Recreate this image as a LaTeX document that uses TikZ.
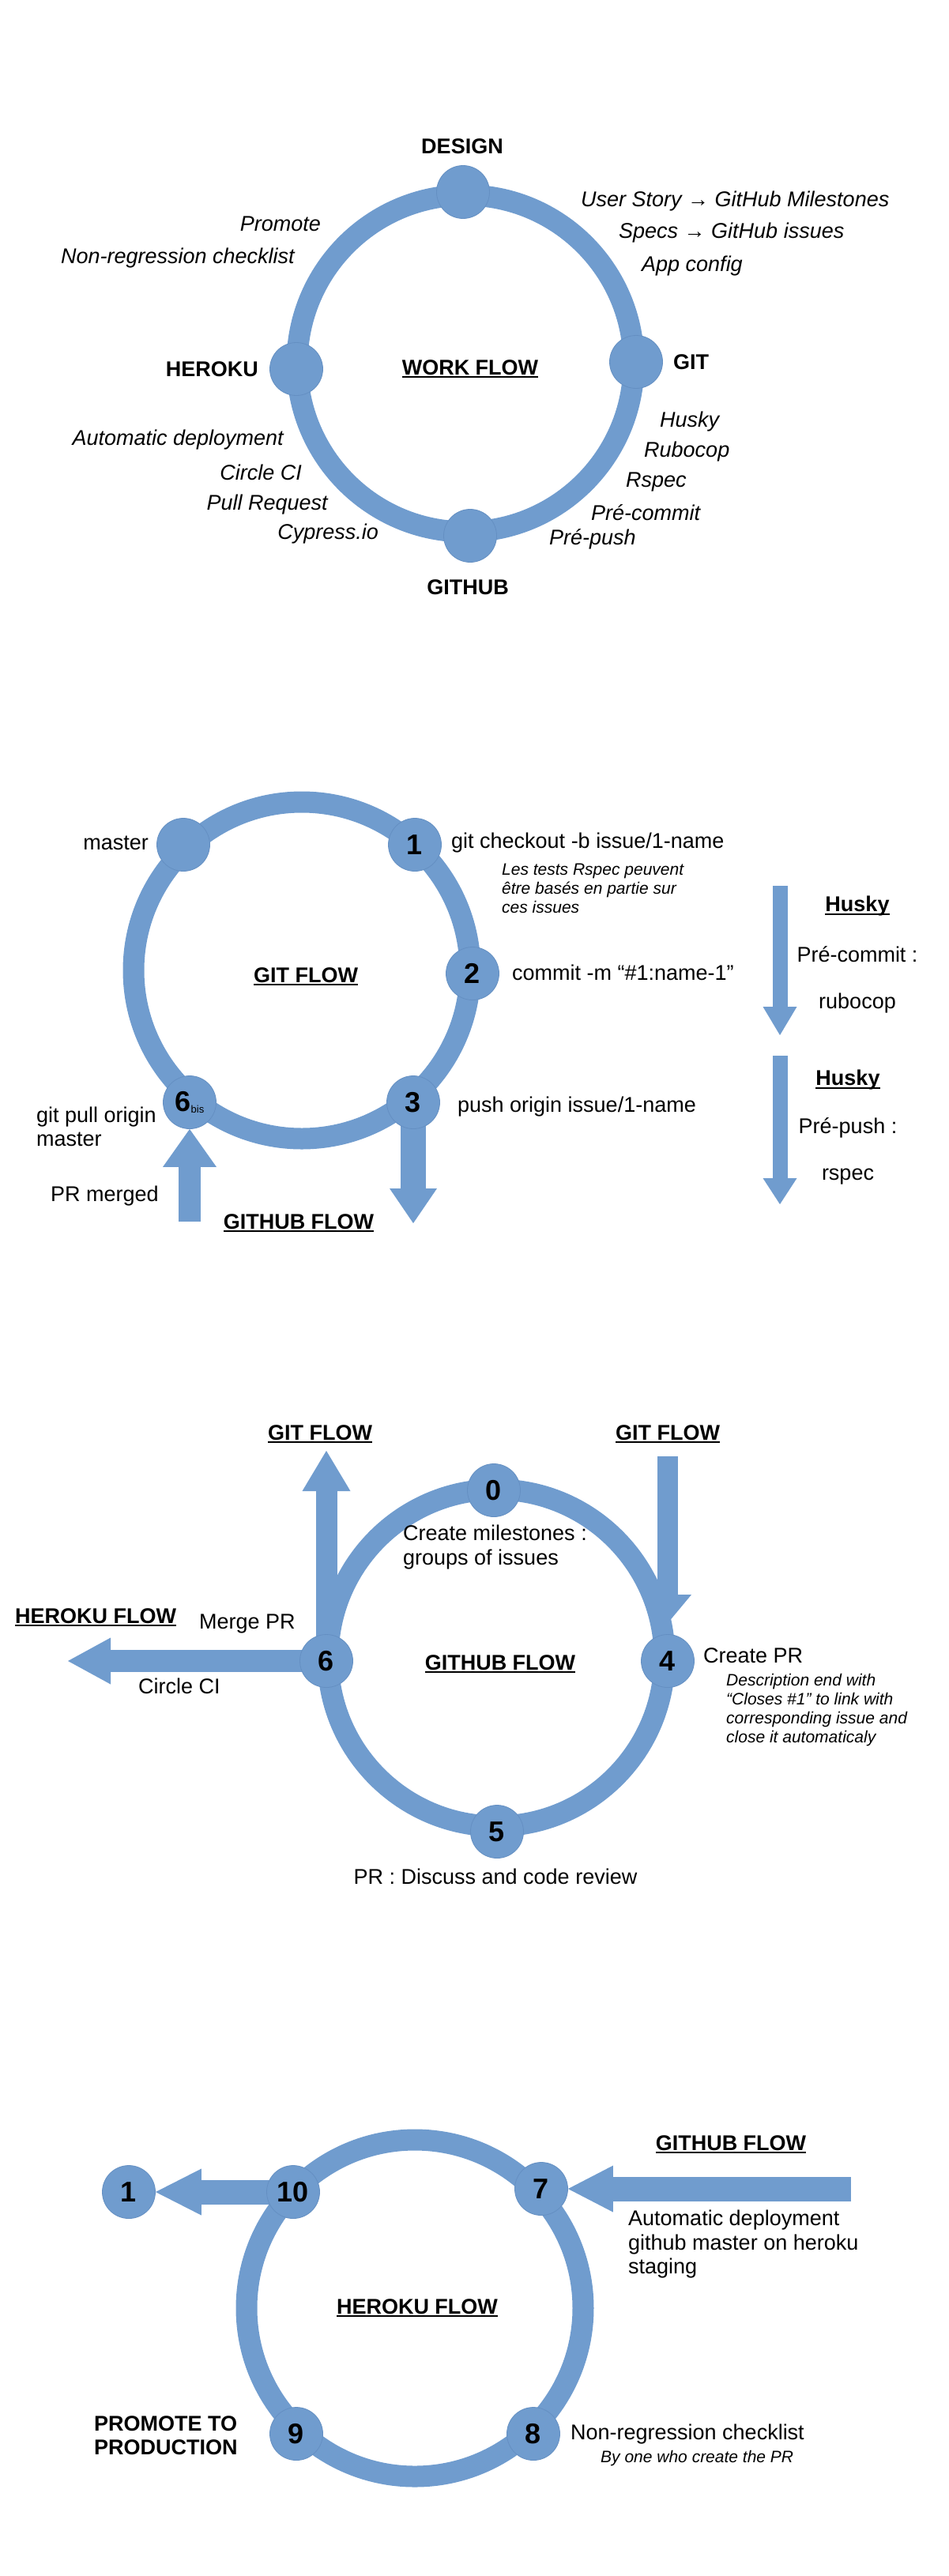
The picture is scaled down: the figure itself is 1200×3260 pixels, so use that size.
\documentclass[tikz,border=0pt]{standalone}
\usepackage{fontspec}
\setmainfont{Liberation Sans}
\usetikzlibrary{arrows.meta, backgrounds}

\definecolor{flowblue}{RGB}{112,156,206}
\definecolor{flowedge}{RGB}{100,143,194}
\newcommand{\lblfont}{\fontsize{27}{30.5}\selectfont}
\newcommand{\notefont}{\fontsize{21}{24}\selectfont\itshape}
\newcommand{\dotfont}{\fontsize{36}{36}\selectfont\bfseries}
% underline of the flow titles
\newcommand{\flowul}[1]{\setbox0\hbox{#1}\rlap{\rule[-4pt]{\wd0}{2pt}}\box0}

\begin{document}
\begin{tikzpicture}[x=1pt, y=-1pt,
  flowring/.style={draw=flowblue, line width=27pt},
  flowdot/.style={circle, fill=flowblue, draw=flowedge, line width=0.8pt, minimum size=67pt, inner sep=0pt, font=\dotfont},
  lbl/.style={inner sep=0pt, font=\lblfont, align=left},
  itl/.style={inner sep=0pt, font=\lblfont\itshape},
  ttl/.style={inner sep=0pt, font=\lblfont\bfseries, align=left},
  remark/.style={inner sep=0pt, font=\notefont, align=left},
  fatarrow/.style n args={3}{draw=flowblue, line width=#1, -{Triangle[width=#2, length=#3, line width=0pt]}}]
\useasboundingbox (0,0) rectangle (1200,3260);

% work flow
\node[flowdot] (design) at (586,243) {};
\node[flowdot] (git) at (805,458) {};
\node[flowdot] (heroku) at (375,467) {};
\node[flowdot] (github) at (595,678) {};
\node[ttl] (designtxt) at (585,185) {DESIGN};
\node[ttl, anchor=west] (gittxt) at (852,458) {GIT};
\node[ttl, anchor=east] (herokutxt) at (327,467) {HEROKU};
\node[ttl] (githubtxt) at (592,743) {GITHUB};
\node[ttl] (workflow) at (595,467) {\flowul{WORK FLOW}};
\node[itl, anchor=west] (story) at (735,255) {User Story → GitHub Milestones};
\node[itl, anchor=west] (specs) at (783,295) {Specs → GitHub issues};
\node[itl, anchor=west] (appconf) at (812,337) {App config};
\node[itl, anchor=east] (promote) at (406,283) {Promote};
\node[itl, anchor=east] (nonreg) at (373,327) {Non-regression checklist};
\node[itl, anchor=west] (husky) at (835,534) {Husky};
\node[itl, anchor=west] (rubocop) at (815,572) {Rubocop};
\node[itl, anchor=west] (rspec) at (792,610) {Rspec};
\node[itl, anchor=west] (precommit) at (748,649) {Pré-commit};
\node[itl, anchor=west] (prepush) at (695,682) {Pré-push};
\node[itl, anchor=east] (autodeploy) at (359,557) {Automatic deployment};
\node[itl, anchor=east] (circleci) at (382,598) {Circle CI};
\node[itl, anchor=east] (pullreq) at (415,639) {Pull Request};
\node[itl, anchor=east] (cypress) at (479,676) {Cypress.io};

% git flow
\node[flowdot] (gmaster) at (232,1069) {};
\node[flowdot] (g1) at (525,1069) {1};
\node[flowdot] (g2) at (598,1232) {2};
\node[flowdot] (g3) at (523,1395) {3};
\node[flowdot] (g6) at (240,1395) {6\raisebox{-2pt}{\fontsize{13}{13}\selectfont\mdseries bis}};
\node[lbl, anchor=east] (mastertxt) at (188,1067) {master};
\node[lbl, anchor=west] (checkout) at (571,1067) {git checkout -b issue/1-name};
\node[remark, anchor=west] (rspecnote) at (635,1124) {Les tests Rspec peuvent\\être basés en partie sur\\ces issues};
\node[lbl, anchor=west] (commit) at (648,1231) {commit -m “\#1:name-1”};
\node[lbl, anchor=west] (push) at (579,1401) {push origin issue/1-name};
\node[lbl, anchor=west] (pull) at (46,1426) {git pull origin\\master};
\node[lbl, anchor=west] (merged) at (64,1513) {PR merged};
\node[ttl] (togithub) at (378,1548) {\flowul{GITHUB FLOW}};
\node[ttl] (gitflow) at (387,1236) {\flowul{GIT FLOW}};
\node[ttl] (husky1) at (1085,1147) {\flowul{Husky}};
\node[lbl] (hookcommit) at (1085,1208) {Pré-commit :};
\node[lbl] (hookrubocop) at (1085,1270) {rubocop};
\node[ttl] (husky2) at (1073,1367) {\flowul{Husky}};
\node[lbl] (hookpush) at (1073,1427) {Pré-push :};
\node[lbl] (hookrspec) at (1073,1489) {rspec};
\coordinate (gdown) at (523,1548);
\coordinate (gup) at (240,1546);
\coordinate (hk1a) at (987,1121);
\coordinate (hk1b) at (987,1310);
\coordinate (hk2a) at (987,1336);
\coordinate (hk2b) at (987,1524);

% github flow
\node[flowdot] (h0) at (625,1886) {0};
\node[flowdot] (h4) at (845,2102) {4};
\node[flowdot] (h5) at (629,2318) {5};
\node[flowdot] (h6) at (413,2102) {6};
\node[ttl] (gitleft) at (405,1815) {\flowul{GIT FLOW}};
\node[ttl] (gitright) at (845,1815) {\flowul{GIT FLOW}};
\node[lbl, anchor=west] (milestones) at (510,1958) {Create milestones :\\groups of issues};
\node[ttl, anchor=west] (toheroku) at (19,2047) {\flowul{HEROKU FLOW}};
\node[lbl, anchor=west] (mergepr) at (252,2055) {Merge PR};
\node[lbl, anchor=west] (circle) at (175,2134) {Circle CI};
\node[ttl] (githubflow) at (633,2106) {\flowul{GITHUB FLOW}};
\node[lbl, anchor=west] (createpr) at (890,2095) {Create PR};
\node[remark, anchor=west] (closes) at (919,2164) {Description end with\\“Closes \#1” to link with\\corresponding issue and\\close it automaticaly};
\node[lbl] (review) at (627,2375) {PR : Discuss and code review};
\coordinate (toGit) at (413,1836);
\coordinate (fromGit) at (845,1843);
\coordinate (toHeroku) at (86,2102);

% heroku flow
\node[flowdot] (k10) at (371,2774) {10};
\node[flowdot] (k7) at (685,2770) {7};
\node[flowdot] (k9) at (375,3080) {9};
\node[flowdot] (k8) at (675,3080) {8};
\node[flowdot] (k1) at (163,2774) {1};
\node[ttl] (fromgithub) at (925,2714) {\flowul{GITHUB FLOW}};
\node[lbl, anchor=west] (staging) at (795,2840) {Automatic deployment\\github master on heroku\\staging};
\node[ttl] (herokuflow) at (528,2921) {\flowul{HEROKU FLOW}};
\node[ttl, anchor=west] (production) at (119,3082) {PROMOTE TO\\PRODUCTION};
\node[lbl, anchor=west] (checklist) at (722,3080) {Non-regression checklist};
\node[remark, anchor=west] (byone) at (760,3111) {By one who create the PR};
\coordinate (fromGithub) at (1077,2770);

\begin{scope}[on background layer]
\draw[flowring] (589,460) circle (213pt);
\draw[flowring] (382,1228) circle (213pt);
\draw[flowring] (628,2098) circle (213pt);
\draw[flowring] (525,2921) circle (213pt);
\draw[fatarrow={32pt}{60pt}{44pt}] (g3.center) -- (gdown);
\draw[fatarrow={28pt}{68pt}{48pt}] (gup) -- (g6.south);
\draw[fatarrow={19pt}{43pt}{36pt}] (hk1a) -- (hk1b);
\draw[fatarrow={19pt}{43pt}{33pt}] (hk2a) -- (hk2b);
\draw[fatarrow={27pt}{61pt}{51pt}] (h6.center) -- (toGit);
\draw[fatarrow={26pt}{60pt}{36pt}, shorten >=14pt] (fromGit) -- (h4.north);
\draw[fatarrow={28pt}{59pt}{54pt}] (h6.center) -- (toHeroku);
\draw[fatarrow={31pt}{59pt}{58pt}] (k10.center) -- (k1.east);
\draw[fatarrow={31pt}{59pt}{57pt}] (fromGithub) -- (k7.east);
\end{scope}
\end{tikzpicture}
\end{document}
